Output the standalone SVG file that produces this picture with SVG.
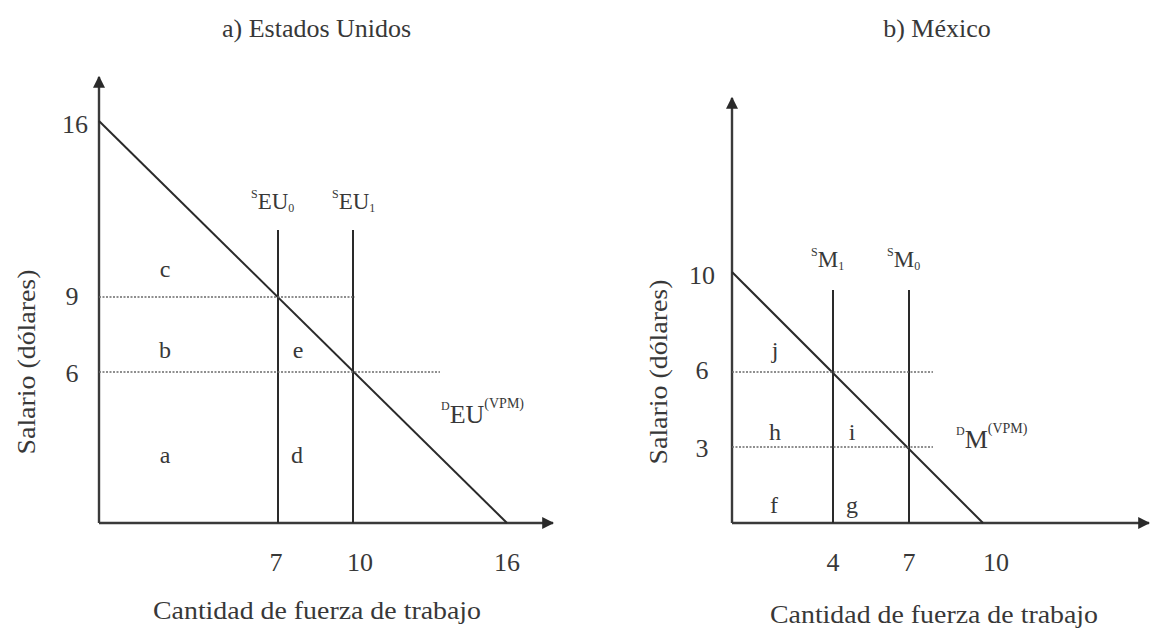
<svg xmlns="http://www.w3.org/2000/svg" width="1150" height="630" viewBox="0 0 1150 630" font-family="'Liberation Serif', 'Times New Roman', serif">
<defs>
<marker id="arr" viewBox="0 0 10 10" refX="9" refY="5" markerWidth="12" markerHeight="12" markerUnits="userSpaceOnUse" orient="auto"><path d="M0,0 L10,5 L0,10 z" fill="#2a2a2a"/></marker>
<style>
text{font-family:'Liberation Serif','Times New Roman',serif;fill:#383838;font-size:26px}
.ax{stroke:#3a3a3a;stroke-width:2.4;fill:none}
.ln{stroke:#2a2a2a;stroke-width:2;fill:none}
.dot{stroke:#6a6a6a;stroke-width:1.6;stroke-dasharray:2 1.5;fill:none}
.sm{font-size:12px}
.vp{font-size:14px}
.lt{font-size:24px}
.sl{font-size:23px}
.mid{text-anchor:middle}
</style>
</defs>
<rect width="1150" height="630" fill="#fff"/>
<g id="connectors">
<line class="ax" x1="99" y1="523" x2="99" y2="77" marker-end="url(#arr)"/>
<line class="ax" x1="99" y1="523" x2="553" y2="523" marker-end="url(#arr)"/>
<line class="ln" x1="99" y1="121" x2="507" y2="523"/>
<line class="ln" x1="278" y1="230" x2="278" y2="523"/>
<line class="ln" x1="353" y1="230" x2="353" y2="523"/>
<line class="dot" x1="99" y1="297" x2="355" y2="297"/>
<line class="dot" x1="99" y1="372" x2="440" y2="372"/>
<line class="ax" x1="732" y1="523" x2="732" y2="98" marker-end="url(#arr)"/>
<line class="ax" x1="732" y1="523" x2="1149" y2="523" marker-end="url(#arr)"/>
<line class="ln" x1="732" y1="272" x2="983" y2="523"/>
<line class="ln" x1="833" y1="290" x2="833" y2="523"/>
<line class="ln" x1="909" y1="290" x2="909" y2="523"/>
<line class="dot" x1="732" y1="372" x2="933" y2="372"/>
<line class="dot" x1="732" y1="447" x2="933" y2="447"/>
</g>
<g id="panel-a">
<text x="222" y="37">a) Estados Unidos</text>
<text x="153" y="619" textLength="328" lengthAdjust="spacingAndGlyphs">Cantidad de fuerza de trabajo</text>
<text transform="translate(35,362) rotate(-90)" class="mid" textLength="185" lengthAdjust="spacingAndGlyphs">Salario (dólares)</text>
<text x="75" y="133" class="mid">16</text>
<text x="72" y="305" class="mid">9</text>
<text x="72" y="382" class="mid">6</text>
<text x="276" y="571" class="mid">7</text>
<text x="360" y="571" class="mid">10</text>
<text x="507" y="571" class="mid">16</text>
<text x="165" y="277" class="mid lt">c</text>
<text x="165" y="358" class="mid lt">b</text>
<text x="165" y="463" class="mid lt">a</text>
<text x="298" y="358" class="mid lt">e</text>
<text x="297" y="463" class="mid lt">d</text>
</g>
<g id="label-SEU0"><text x="251" y="209"><tspan class="sm" dy="-11">S</tspan><tspan class="sl" dy="11">EU</tspan><tspan class="sm" dy="3">0</tspan></text></g>
<g id="label-SEU1"><text x="332" y="209"><tspan class="sm" dy="-11">S</tspan><tspan class="sl" dy="11">EU</tspan><tspan class="sm" dy="3">1</tspan></text></g>
<g id="label-DEU"><text x="441" y="423"><tspan class="sm" dy="-13">D</tspan><tspan dy="13">EU</tspan><tspan class="vp" dy="-15">(VPM)</tspan></text></g>
<g id="panel-b">
<text x="937" y="37" class="mid">b) México</text>
<text x="770" y="623" textLength="328" lengthAdjust="spacingAndGlyphs">Cantidad de fuerza de trabajo</text>
<text transform="translate(667,372) rotate(-90)" class="mid" textLength="185" lengthAdjust="spacingAndGlyphs">Salario (dólares)</text>
<text x="702" y="284" class="mid">10</text>
<text x="702" y="379" class="mid">6</text>
<text x="702" y="457" class="mid">3</text>
<text x="833" y="571" class="mid">4</text>
<text x="909" y="571" class="mid">7</text>
<text x="996" y="571" class="mid">10</text>
<text x="775" y="358" class="mid lt">j</text>
<text x="775" y="440" class="mid lt">h</text>
<text x="852" y="440" class="mid lt">i</text>
<text x="774" y="513" class="mid lt">f</text>
<text x="852" y="513" class="mid lt">g</text>
</g>
<g id="label-SM1"><text x="811" y="267"><tspan class="sm" dy="-11">S</tspan><tspan class="sl" dy="11">M</tspan><tspan class="sm" dy="3">1</tspan></text></g>
<g id="label-SM0"><text x="887" y="267"><tspan class="sm" dy="-11">S</tspan><tspan class="sl" dy="11">M</tspan><tspan class="sm" dy="3">0</tspan></text></g>
<g id="label-DM"><text x="956" y="448"><tspan class="sm" dy="-13">D</tspan><tspan dy="13">M</tspan><tspan class="vp" dy="-15">(VPM)</tspan></text></g>
</svg>
